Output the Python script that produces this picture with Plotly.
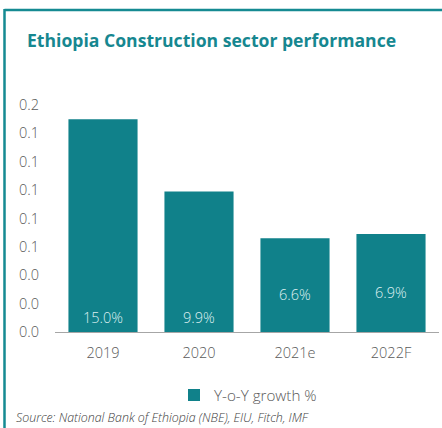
import plotly.graph_objects as go

categories = ["2019", "2020", "2021e", "2022F"]
growth = [0.150, 0.099, 0.066, 0.069]
value_labels = ["15.0%", "9.9%", "6.6%", "6.9%"]
y_ticks = [0.0, 0.02, 0.04, 0.06, 0.08, 0.10, 0.12, 0.14, 0.16]

TEAL = "#10818A"
FRAME = "#158A92"
GREY = "#595959"
W, H = 442, 428
L, R, T, B = 55, 3, 105, 96
PW, PH = W - L - R, H - T - B

def px_x(p):
    return (p - L) / PW

def px_y(p):
    return 1 - (p - T) / PH

fig = go.Figure()
fig.add_trace(go.Bar(
    x=categories, y=growth, name="Y-o-Y growth %",
    marker=dict(color=TEAL, line=dict(width=0)),
    showlegend=True,
))

# bar value labels (x given as category index)
for i, (v, t) in enumerate(zip(growth, value_labels)):
    ly = 0.010 if i < 2 else v * 0.4
    fig.add_annotation(x=i, y=ly, xref="x", yref="y", text=t, showarrow=False,
                       font=dict(family="Open Sans", size=14.5, weight=300, color="#DDEFF0"))

fig.add_annotation(x=px_x(25), y=px_y(40), xref="paper", yref="paper",
                   xanchor="left", yanchor="middle", showarrow=False,
                   text="<b>Ethiopia Construction sector performance</b>",
                   font=dict(family="Open Sans", size=17.6, color="#168790"))
fig.add_annotation(x=px_x(14), y=px_y(417), xref="paper", yref="paper",
                   xanchor="left", yanchor="middle", showarrow=False,
                   text="<i>Source: National Bank of Ethiopia (NBE), EIU, Fitch, IMF</i>",
                   font=dict(family="Open Sans", size=12.4, weight=300, color="#404040"))

# frame
fig.add_shape(type="line", xref="paper", yref="paper",
              x0=px_x(4.5), x1=px_x(445), y0=px_y(10), y1=px_y(10),
              line=dict(color=FRAME, width=2.5))
fig.add_shape(type="line", xref="paper", yref="paper",
              x0=px_x(4.5), x1=px_x(4.5), y0=px_y(9), y1=px_y(430),
              line=dict(color=FRAME, width=2.5))

fig.update_layout(
    width=W, height=H,
    margin=dict(l=L, r=R, t=T, b=B, pad=0),
    paper_bgcolor="white", plot_bgcolor="white",
    bargap=0.28,
    font=dict(family="Open Sans", size=14.5, weight=300, color=GREY),
    legend=dict(orientation="h", x=px_x(174), y=px_y(395), xanchor="left",
                yanchor="middle", font=dict(size=15.2, weight=300, color=GREY),
                itemwidth=30, itemsizing="constant", tracegroupgap=0),
    xaxis=dict(type="category", categoryorder="array", categoryarray=categories,
               range=[-0.5, len(categories) - 0.5],
               showline=True, linecolor="#A6A6A6", linewidth=1,
               showgrid=False, ticks="", tickfont=dict(size=14.5, weight=300, color=GREY),
               ticklabelstandoff=8),
    yaxis=dict(range=[0, 0.16], tickvals=y_ticks, tickformat=".1f", showgrid=False,
               zeroline=False, showline=False, ticks="",
               tickfont=dict(size=14.5, weight=300, color=GREY), ticklabelstandoff=15),
)

fig.write_html("out.html", config={"displayModeBar": False},
               post_script="document.body.style.margin='0';document.body.style.overflow='hidden';")
